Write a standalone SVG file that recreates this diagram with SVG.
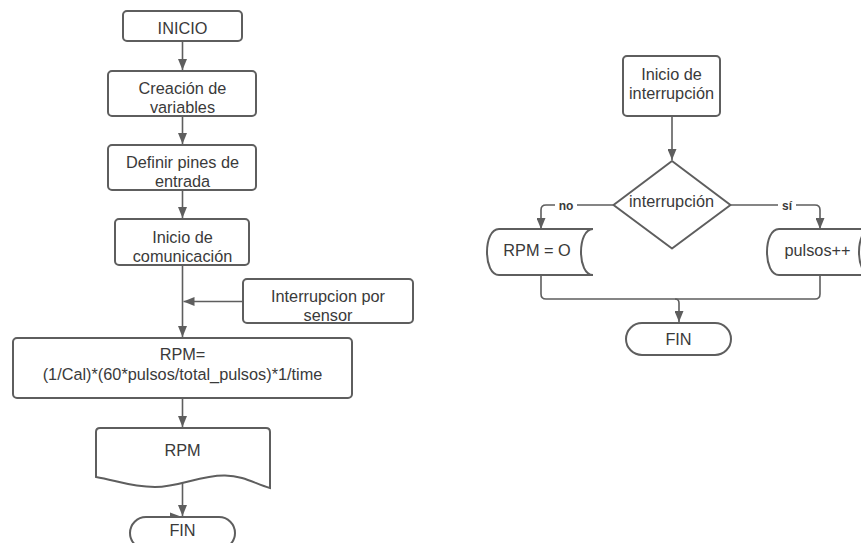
<svg xmlns="http://www.w3.org/2000/svg" width="861" height="543" viewBox="0 0 861 543">
<style>
.s{fill:#fff;stroke:#5e5e5e;stroke-width:2}
.t{font-family:"Liberation Sans",Arial,sans-serif;font-size:16.3px;fill:#3a3a3a;text-anchor:middle}
.l{font-family:"Liberation Sans",Arial,sans-serif;font-size:12px;font-weight:bold;fill:#3a3a3a;text-anchor:middle}
.c{fill:none;stroke:#5e5e5e;stroke-width:1.6}
</style>
<defs>
<marker id="a" viewBox="0 0 11 9" refX="11" refY="4.5" markerWidth="11" markerHeight="9" markerUnits="userSpaceOnUse" orient="auto">
<path d="M0,0 L11,4.5 L0,9 z" fill="#5e5e5e"/>
</marker>
</defs>
<rect width="861" height="543" fill="#fff"/>
<g id="connectors">
<path class="c" d="M182.5,42 V70" marker-end="url(#a)"/>
<path class="c" d="M182.5,116 V144" marker-end="url(#a)"/>
<path class="c" d="M182.5,190 V218" marker-end="url(#a)"/>
<path class="c" d="M182.5,265 V337" marker-end="url(#a)"/>
<path class="c" d="M243,301.5 H183.5" marker-end="url(#a)"/>
<path class="c" d="M182.5,398 V427" marker-end="url(#a)"/>
<path class="c" d="M182.5,482 V516" marker-end="url(#a)"/>
<path d="M170,512.5 L182,517 L170,521.5 z" fill="#5e5e5e"/>
<path class="c" d="M672,116 V160" marker-end="url(#a)"/>
<path class="c" d="M613,205 H546 Q541,205 541,210 V229" marker-end="url(#a)"/>
<path class="c" d="M730,205 H815 Q820,205 820,210 V229" marker-end="url(#a)"/>
<path class="c" d="M541,275 V294 Q541,299 546,299 H815 Q820,299 820,294 V275"/>
<path class="c" d="M675,299 Q679,299 679,303 V322" marker-end="url(#a)"/>
<rect x="555" y="198" width="22" height="14" fill="#fff"/>
<text class="l" x="566" y="209.5">no</text>
<rect x="778" y="198" width="18" height="14" fill="#fff"/>
<text class="l" x="787" y="209.5">sí</text>
</g>
<g id="inicio">
<rect class="s" x="123" y="11" width="119" height="30" rx="4"/>
<text class="t" x="182.5" y="34">INICIO</text>
</g>
<g id="creacion">
<rect class="s" x="108" y="71" width="148" height="45" rx="4"/>
<text class="t" x="182.5" y="94">Creación de</text>
<text class="t" x="182.5" y="113.3">variables</text>
</g>
<g id="definir">
<rect class="s" x="108" y="145" width="148" height="45" rx="4"/>
<text class="t" x="182.5" y="167.5">Definir pines de</text>
<text class="t" x="182.5" y="187">entrada</text>
</g>
<g id="comunicacion">
<rect class="s" x="115" y="219" width="134" height="46" rx="4"/>
<text class="t" x="182.5" y="242.7">Inicio de</text>
<text class="t" x="182.5" y="261.7">comunicación</text>
</g>
<g id="sensor">
<rect class="s" x="243" y="279" width="170" height="44" rx="4"/>
<text class="t" x="328" y="301.7">Interrupcion por</text>
<text class="t" x="328" y="321">sensor</text>
</g>
<g id="calculo">
<rect class="s" x="13" y="338" width="339" height="60" rx="4"/>
<text class="t" x="182.5" y="360">RPM=</text>
<text class="t" x="182.5" y="380">(1/Cal)*(60*pulsos/total_pulsos)*1/time</text>
</g>
<g id="rpm-doc">
<path class="s" d="M100,428 H266 Q270,428 270,432 V488 C255,484 245,476 225,475.5 C200,475 180,487 155,487 C130,487 115,480 96,477 V432 Q96,428 100,428 Z"/>
<text class="t" x="182.5" y="455.7">RPM</text>
</g>
<g id="fin1">
<rect class="s" x="130" y="517" width="105" height="32" rx="16"/>
<text class="t" x="182.5" y="535.5">FIN</text>
</g>
<g id="inicio-int">
<rect class="s" x="623" y="56" width="97" height="60" rx="4"/>
<text class="t" x="671.5" y="80">Inicio de</text>
<text class="t" x="671.5" y="99.3">interrupción</text>
</g>
<g id="decision">
<path class="s" d="M672,161 L730.5,205 L672,248.5 L613.5,205 Z" stroke-linejoin="round"/>
<text class="t" x="671.5" y="207.3">interrupción</text>
</g>
<g id="rpm0">
<path class="s" d="M499,229 H593 C577,229 577,275 593,275 H499 C483,275 483,229 499,229 Z"/>
<text class="t" x="537" y="256">RPM = O</text>
</g>
<g id="pulsos">
<path class="s" d="M779,229 H871 C855,229 855,275 871,275 H779 C763,275 763,229 779,229 Z"/>
<text class="t" x="817.5" y="255.5">pulsos++</text>
</g>
<g id="fin2">
<rect class="s" x="626" y="323" width="105" height="32" rx="16"/>
<text class="t" x="678.5" y="345">FIN</text>
</g>
</svg>
